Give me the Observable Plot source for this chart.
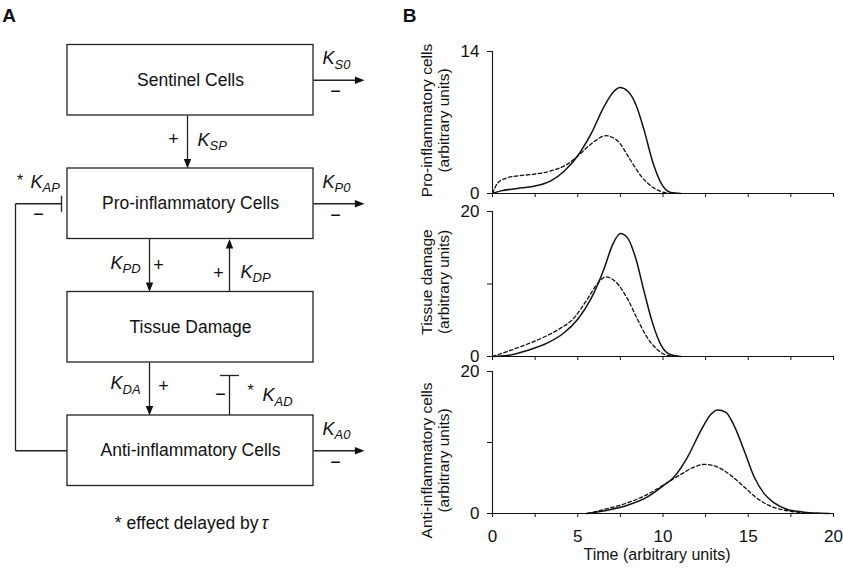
<!DOCTYPE html>
<html><head><meta charset="utf-8">
<script src="https://cdn.jsdelivr.net/npm/d3@7"></script>
<script src="https://cdn.jsdelivr.net/npm/@observablehq/plot@0.6"></script>
<style>
body{margin:0;background:#fff;}
#root{position:relative;width:843px;height:569px;overflow:hidden;color:#111;font-family:"Liberation Sans",Arial,sans-serif;}
#root svg{position:absolute;}
</style></head>
<body><div id="root"></div>
<script>
// ---------------- Panel B data (time, value) ----------------
const proSolidT = [0, 0.49, 1.47, 2.44, 3.42, 4.2, 4.99, 5.77, 6.55, 7.14, 7.47, 7.92, 8.4, 8.9, 9.38, 9.87, 10.46, 11.05];
const proSolidV = [0, 0.26, 0.49, 0.72, 1.25, 2.2, 3.7, 5.85, 8.6, 10.1, 10.45, 10.1, 8.8, 6.2, 3.2, 1.08, 0.1, 0];
const proDashT  = [0, 0.29, 0.78, 1.47, 2.44, 3.42, 4.4, 5.0, 5.77, 6.65, 7.33, 8.0, 8.7, 9.48, 10.07, 10.65];
const proDashV  = [0, 1.0, 1.5, 1.74, 1.9, 2.23, 2.9, 3.7, 4.86, 5.7, 5.2, 3.55, 1.74, 0.53, 0.1, 0];

const damSolidT = [0, 0.88, 2.05, 3.23, 4.2, 5.0, 5.77, 6.55, 7.04, 7.5, 7.92, 8.4, 8.9, 9.38, 9.87, 10.46, 11.05];
const damSolidV = [0, 0.14, 0.84, 1.87, 3.27, 5.14, 7.94, 12.15, 15.4, 16.96, 16.36, 13.55, 8.88, 4.67, 1.64, 0.23, 0];
const damDashT  = [0, 0.88, 1.86, 2.83, 3.8, 4.8, 5.57, 6.16, 6.65, 7.23, 7.92, 8.5, 9.09, 9.68, 10.26, 10.85];
const damDashV  = [0, 0.7, 1.54, 2.48, 3.64, 5.37, 7.94, 10.05, 10.98, 10.28, 7.94, 5.14, 2.57, 0.93, 0.14, 0];

const antiSolidT = [5.5, 6.74, 7.92, 9.09, 9.97, 10.65, 11.44, 12.22, 12.8, 13.2, 13.69, 14.17, 14.76, 15.35, 15.93, 16.52, 17.3, 18.28, 19.26, 19.75];
const antiSolidV = [0, 0.47, 1.17, 2.34, 3.83, 5.14, 7.94, 11.68, 13.93, 14.58, 14.25, 12.38, 8.88, 5.14, 2.8, 1.5, 0.56, 0.19, 0.05, 0];
const antiDashT  = [5.57, 6.74, 7.92, 9.09, 9.97, 11.04, 11.83, 12.42, 13.2, 13.98, 14.76, 15.54, 16.32, 17.1, 18.08, 18.86];
const antiDashV  = [0, 0.7, 1.5, 2.7, 3.93, 5.5, 6.54, 6.92, 6.54, 5.37, 3.74, 2.1, 1.03, 0.47, 0.14, 0];

const yLabels = ["Pro-inflammatory cells\n(arbitrary units)", "Tissue damage\n(arbitrary units)", "Anti-inflammatory cells\n(arbitrary units)"];
const yMaxes = [14, 20, 20];
const xTickValues = [0, 2.5, 5, 7.5, 10, 12.5, 15, 17.5, 20];
const xTickLabels = [0, 5, 10, 15, 20];
const xTitle = "Time (arbitrary units)";

// ---------------- Panel A content ----------------
const boxNames = ["Sentinel Cells", "Pro-inflammatory Cells", "Tissue Damage", "Anti-inflammatory Cells"];
const outflows = [{box: 0, k: "S0"}, {box: 1, k: "P0"}, {box: 3, k: "A0"}];
const couplings = [
  {from: 0, to: 1, k: "SP", sign: "+", effect: "activate"},
  {from: 1, to: 2, k: "PD", sign: "+", effect: "activate"},
  {from: 2, to: 1, k: "DP", sign: "+", effect: "activate"},
  {from: 2, to: 3, k: "DA", sign: "+", effect: "activate"},
  {from: 3, to: 2, k: "AD", sign: "\u2212", effect: "inhibit", delayed: true},
  {from: 3, to: 1, k: "AP", sign: "\u2212", effect: "inhibit", delayed: true}
];
const footnote = "* effect delayed by";
const tauSymbol = "\u03c4";
const panelLetters = ["A", "B"];

// ---------------- layout (geometry only) ----------------
const FONT = '"Liberation Sans", Arial, Helvetica, sans-serif';
const L = {x0: 67, x1: 313, cx: 190, top0: 44.5, step: 123.5, h: 70.5, outEnd: 364, loopX: 15};
const boxTop = i => L.top0 + i * L.step, boxBot = i => boxTop(i) + L.h, boxMid = i => boxTop(i) + L.h / 2;
const gapMid = (a, b) => (boxBot(Math.min(a, b)) + boxTop(Math.max(a, b))) / 2;
const lane = {SP: 187, PD: 149, DP: 229, DA: 149, AD: 229};
const lab = {
  SP: {s: [-14, -2.5], k: [10, 3.5]},
  PD: {s: [9, 0], k: [-39, 3]},
  DP: {s: [-11, 8], k: [11, 12]},
  DA: {s: [14, -3], k: [-39, 0]},
  AD: {s: [-9, 5], k: [33, 12], star: [21, 2]},
  AP: {s: [23, 10], k: [15, -16], star: [4.5, -23]}
};

// build geometry
const segs = [], heads = [], signs = [], kLabs = [], stars = [];
for (const o of outflows) {
  const y = boxMid(o.box);
  segs.push({x1: L.x1, y1: y, x2: L.outEnd - 4, y2: y});
  heads.push({x: L.outEnd, y, dir: "right"});
  kLabs.push({x: L.x1 + 9, y: y - 16, k: o.k});
  signs.push({x: L.x1 + 22, y: y + 11, t: "\u2212"});
}
for (const c of couplings) {
  const p = lab[c.k];
  if (c.k === "AP") {
    const ya = boxMid(c.from), yp = boxMid(c.to), xb = L.x0 - 6;
    segs.push({x1: L.x0, y1: ya, x2: L.loopX, y2: ya});
    segs.push({x1: L.loopX, y1: ya, x2: L.loopX, y2: yp});
    segs.push({x1: L.loopX, y1: yp, x2: xb, y2: yp});
    segs.push({x1: xb, y1: yp - 8, x2: xb, y2: yp + 8});
    signs.push({x: L.loopX + p.s[0], y: yp + p.s[1], t: c.sign});
    kLabs.push({x: L.loopX + p.k[0], y: yp + p.k[1], k: c.k});
    stars.push({x: L.loopX + p.star[0], y: yp + p.star[1]});
    continue;
  }
  const x = lane[c.k], gm = gapMid(c.from, c.to);
  if (c.effect === "activate") {
    if (c.to > c.from) {
      segs.push({x1: x, y1: boxBot(c.from), x2: x, y2: boxTop(c.to) - 4});
      heads.push({x, y: boxTop(c.to), dir: "down"});
    } else {
      segs.push({x1: x, y1: boxTop(c.from), x2: x, y2: boxBot(c.to) + 4});
      heads.push({x, y: boxBot(c.to), dir: "up"});
    }
  } else {
    const yb = boxBot(c.to) + 13;
    segs.push({x1: x, y1: boxTop(c.from), x2: x, y2: yb});
    segs.push({x1: x - 9.5, y1: yb, x2: x + 9.5, y2: yb});
    stars.push({x: x + p.star[0], y: gm + p.star[1]});
  }
  signs.push({x: x + p.s[0], y: gm + p.s[1], t: c.sign});
  kLabs.push({x: x + p.k[0], y: gm + p.k[1], k: c.k});
}

// arrowhead symbols (tip at origin)
const HL = 2.6;
const headRight = {draw(ctx, size) { const r = Math.sqrt(size / Math.PI); ctx.moveTo(0, 0); ctx.lineTo(-HL * r, -r); ctx.lineTo(-HL * r, r); ctx.closePath(); }};
const headDown = {draw(ctx, size) { const r = Math.sqrt(size / Math.PI); ctx.moveTo(0, 0); ctx.lineTo(-r, -HL * r); ctx.lineTo(r, -HL * r); ctx.closePath(); }};
const headUp = {draw(ctx, size) { const r = Math.sqrt(size / Math.PI); ctx.moveTo(0, 0); ctx.lineTo(-r, HL * r); ctx.lineTo(r, HL * r); ctx.closePath(); }};
const headSym = {right: headRight, down: headDown, up: headUp};

const root = document.getElementById("root");

const diagram = Plot.plot({
  width: 400, height: 569, margin: 0,
  x: {domain: [0, 400], range: [0, 400], axis: null},
  y: {domain: [0, 569], range: [0, 569], axis: null},
  style: {fontFamily: FONT, background: "transparent", overflow: "visible", color: "#111"},
  marks: [
    Plot.link(segs, {x1: "x1", y1: "y1", x2: "x2", y2: "y2", stroke: "#222", strokeWidth: 1.3}),
    ...["right", "down", "up"].map(dir => Plot.dot(heads.filter(h => h.dir === dir), {x: "x", y: "y", r: 3.7, symbol: headSym[dir], fill: "#111", stroke: "none"})),
    Plot.rect(boxNames, {x1: L.x0, x2: L.x1, y1: (d, i) => boxTop(i), y2: (d, i) => boxBot(i), fill: "white", stroke: "#222", strokeWidth: 1.3}),
    Plot.text(boxNames, {x: L.cx, y: (d, i) => boxMid(i), text: d => d, fontSize: 17.5}),
    Plot.text(signs, {x: "x", y: "y", text: "t", fontSize: 18}),
    Plot.text(stars, {x: "x", y: "y", text: () => "*", fontSize: 16}),
    Plot.text(kLabs, {x: "x", y: "y", text: () => "K", fontSize: 18, fontStyle: "italic", textAnchor: "start", lineAnchor: "bottom"}),
    Plot.text(kLabs, {x: d => d.x + 12, y: d => d.y + 4.5, text: "k", fontSize: 13, fontStyle: "italic", textAnchor: "start", lineAnchor: "bottom"}),
    Plot.text([footnote], {x: 258, y: 528, text: d => d, fontSize: 17.5, textAnchor: "end", lineAnchor: "bottom"}),
    Plot.text([tauSymbol], {x: 261, y: 528, text: d => d, fontSize: 17.5, fontStyle: "italic", textAnchor: "start", lineAnchor: "bottom"}),
    Plot.text([panelLetters[0]], {x: 8.5, y: 15, text: d => d, fontSize: 19, fontWeight: "bold"})
  ]
});
diagram.style.left = "0px"; diagram.style.top = "0px";
root.appendChild(diagram);

// ---------------- Panel B charts ----------------
const zip = (T, V) => T.map((t, i) => ({t, v: V[i]}));
const specs = [
  {solid: zip(proSolidT, proSolidV), dashed: zip(proDashT, proDashV), yTicks: [0, 14], pos: 0, height: 203, mt: 51, mb: 10, xLabels: false, labelDy: -2},
  {solid: zip(damSolidT, damSolidV), dashed: zip(damDashT, damDashV), yTicks: [0, 10, 20], pos: 203, height: 160, mt: 8, mb: 7, xLabels: false, labelDy: -2},
  {solid: zip(antiSolidT, antiSolidV), dashed: zip(antiDashT, antiDashV), yTicks: [0, 10, 20], pos: 363, height: 206, mt: 8, mb: 56, xLabels: true, labelDy: 18}
];

specs.forEach((s, i) => {
  const yMax = yMaxes[i];
  const marks = [
    Plot.ruleX([0], {y1: 0, y2: yMax, stroke: "#111", strokeWidth: 1.1}),
    Plot.ruleY([0], {x1: 0, x2: 20, stroke: "#111", strokeWidth: 1.1}),
    Plot.axisY(s.yTicks, {tickSize: 5, tickPadding: 8, fontSize: 17, label: null, tickFormat: d => (d === 0 || d === yMax) ? String(d) : ""}),
    Plot.axisX(xTickValues, {tickSize: 4, tickPadding: 12, fontSize: 17, label: null, tickFormat: d => (s.xLabels && xTickLabels.includes(d)) ? String(d) : ""}),
    Plot.line(s.solid, {x: "t", y: "v", curve: "monotone-x", stroke: "#111", strokeWidth: 1.5}),
    Plot.line(s.dashed, {x: "t", y: "v", curve: "monotone-x", stroke: "#111", strokeWidth: 1.3, strokeDasharray: "3.5,2.5"}),
    Plot.text([yLabels[i]], {frameAnchor: "left", text: d => d, rotate: -90, dx: -57.5, dy: s.labelDy, fontSize: 15.5, lineHeight: 1.12, textAnchor: "middle", lineAnchor: "middle"})
  ];
  if (i === 0) marks.push(Plot.text([panelLetters[1]], {frameAnchor: "top-left", text: d => d, dx: -83, dy: -36, fontSize: 19, fontWeight: "bold", textAnchor: "middle", lineAnchor: "middle"}));
  if (s.xLabels) marks.push(Plot.text([xTitle], {frameAnchor: "bottom", text: d => d, dx: -6, dy: 41, fontSize: 16, textAnchor: "middle", lineAnchor: "middle"}));
  const svg = Plot.plot({
    width: 443, height: s.height,
    marginLeft: 92, marginRight: 10, marginTop: s.mt, marginBottom: s.mb,
    x: {domain: [0, 20], label: null},
    y: {domain: [0, yMax], label: null},
    style: {fontFamily: FONT, background: "transparent", overflow: "visible", color: "#111"},
    marks
  });
  svg.style.left = "400px"; svg.style.top = s.pos + "px";
  root.appendChild(svg);
});
</script>
</body></html>
